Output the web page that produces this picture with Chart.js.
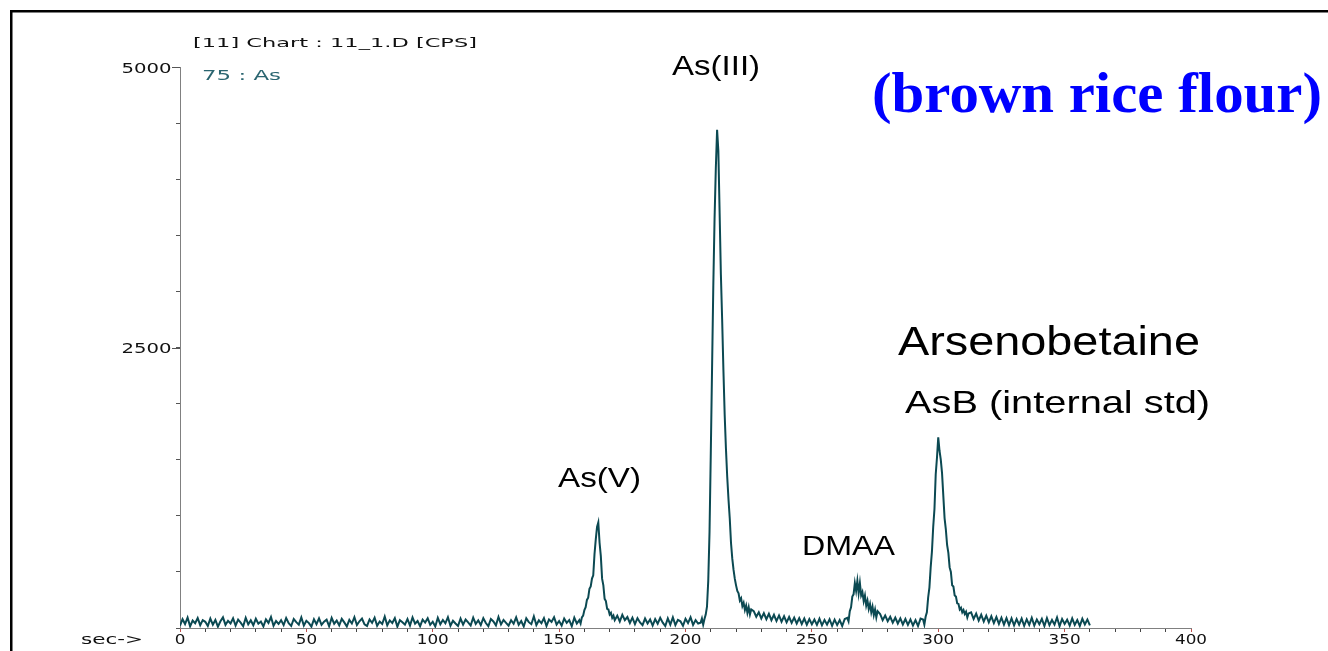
<!DOCTYPE html>
<html><head><meta charset="utf-8">
<script src="https://cdn.jsdelivr.net/npm/chart.js@4/dist/chart.umd.min.js"></script>
<style>html,body{margin:0;padding:0;background:#fff;overflow:hidden}canvas{display:block}</style>
</head><body>
<canvas id="c" width="1328" height="651"></canvas>
<script>
// ---- sampling grid of the chromatogram (start second and step of each segment) ----
const segmentStart = [0, 158, 173, 206, 227, 264, 277, 294, 313];
const segmentStep  = [1, 0.5, 1, 0.5, 1, 0.5, 1, 0.5, 1];

// ---- counts per second, one array per segment ----
const cpsBaselineEarly = [
  20,78,35,92,15,66,42,88,25,70,
  55,18,84,30,72,12,60,95,28,64,
  40,86,22,74,48,16,90,33,68,24,
  82,38,58,14,76,45,98,20,62,36,
  70,26,88,42,18,80,52,30,94,22,
  64,44,12,78,34,86,28,56,74,16,
  90,38,66,24,82,50,14,72,40,96,
  26,60,84,32,18,76,46,92,20,58,
  36,102,24,68,44,88,12,70,52,30,
  80,22,94,38,62,16,74,48,86,28,
  56,14,90,34,72,42,96,20,64,40,
  18,84,30,76,50,22,92,36,68,26,
  88,44,16,80,58,24,98,32,72,46,
  20,70,38,94,28,62,14,86,52,34,
  104,26,68,42,88,18,76,54,96,30,
  62,22,84,46,70,16,92,40
];
const cpsAsV = [70,40,95,110,160,185,250,270,350,370,440,470,660,790,900,940,760,640,440,380,260,240,170,165,120,135,90,110,70];
const cpsValley1 = [110,58,118,70,98,45,92,35,88,50,25,84,40,76,22,80,38,90,48,18,86,30,94,26,72,60,20,82,44,96,28,70,40];
const cpsAsIII = [48,85,30,80,120,190,420,850,1550,2300,3050,3650,4100,4440,4250,3700,3150,2750,2300,1900,1600,1350,1150,980,760,620,520,440,380,330,310,245,265,195,225,160,200,135,185,120,165];
const cpsTail = [150,100,140,85,132,78,126,70,118,62,112,56,104,50,98,46,92,40,88,36,84,30,80,34,76,28,82,24,72,30,78,20,74,26,70,18,80];
const cpsDMAA = [90,60,150,185,280,300,400,330,420,310,400,290,320,240,290,200,245,170,215,140,190,115,165,95,150];
const cpsValley2 = [125,70,112,60,100,48,92,40,86,32,80,28,76,22,70,18,84];
const cpsAsB = [75,30,100,140,270,360,540,680,900,1060,1370,1520,1700,1580,1500,1380,1180,980,880,740,670,540,500,380,370,290,280,220,215,165,180,140,160,125,145,95,130];
const cpsBaselineLate = [140,80,128,66,118,58,110,50,104,44,98,36,92,30,88,26,86,24,80,30,84,20,78,28,90,22,76,34,82,18,88,26,72,30,94,16,80,36,74,22,86,28,70,18,82,32,76,24];
const cpsSegments = [cpsBaselineEarly, cpsAsV, cpsValley1, cpsAsIII, cpsTail, cpsDMAA, cpsValley2, cpsAsB, cpsBaselineLate];

// ---- axis tick labels ----
const xTickLabels = [0, 50, 100, 150, 200, 250, 300, 350, 400];
const yTickLabels = [2500, 5000];

// ---- texts ----
const peakNames = ['As(V)', 'As(III)', 'DMAA', 'Arsenobetaine', 'AsB (internal std)'];
const headerText = '[11] Chart : 11_1.D [CPS]';
const traceText = '75 : As';
const axisUnitText = 'sec->';
const sampleTitle = '(brown rice flour)';

const points = [];
cpsSegments.forEach((seg, s) => seg.forEach((v, i) => points.push({x: segmentStart[s] + i * segmentStep[s], y: v})));

// label anchors in data coordinates (seconds, cps) + style
const peakLabelStyle = [
  {sec: 166,   cps: 1257, font: '28px "Liberation Sans"', w: 83},
  {sec: 212.1, cps: 4929, font: '28px "Liberation Sans"', w: 88},
  {sec: 264.5, cps: 651,  font: '27px "Liberation Sans"', w: 93},
  {sec: 343.8, cps: 2433, font: '40px "Liberation Sans"', w: 302},
  {sec: 347.2, cps: 1916, font: '32px "Liberation Sans"', w: 305}
];

function drawFit(ctx, text, x, y, font, width, align, color) {
  ctx.save();
  ctx.font = font;
  ctx.fillStyle = color;
  ctx.textBaseline = 'alphabetic';
  ctx.textAlign = 'left';
  const w = ctx.measureText(text).width;
  const sx = width / w;
  let left = x;
  if (align === 'center') left = x - width / 2;
  else if (align === 'right') left = x - width;
  ctx.translate(left, y);
  ctx.scale(sx, 1);
  ctx.fillText(text, 0, 0);
  ctx.restore();
}
function drawStretch(ctx, text, x, y, font, sx, align, color) {
  ctx.save();
  ctx.font = font;
  const w = ctx.measureText(text).width * sx;
  ctx.restore();
  drawFit(ctx, text, x, y, font, w, align, color);
}

const textPlugin = {
  id: 'texts',
  afterDraw(chart) {
    const ctx = chart.ctx, xs = chart.scales.x, ys = chart.scales.y, a = chart.chartArea;
    // outer frame
    ctx.save();
    ctx.strokeStyle = '#000';
    ctx.lineWidth = 2.5;
    ctx.beginPath();
    ctx.moveTo(11.25, chart.height + 2);
    ctx.lineTo(11.25, 11.25);
    ctx.lineTo(chart.width + 2, 11.25);
    ctx.stroke();
    // longer ticks at labelled y values
    ctx.strokeStyle = '#555';
    ctx.lineWidth = 1;
    yTickLabels.forEach(v => {
      const py = Math.round(ys.getPixelForValue(v)) + 0.5;
      ctx.beginPath(); ctx.moveTo(a.left - 8, py); ctx.lineTo(a.left, py); ctx.stroke();
    });
    ctx.restore();

    const tickFont = '14px "DejaVu Sans"';
    xTickLabels.forEach(v => drawStretch(ctx, String(v), xs.getPixelForValue(v), a.bottom + 15.5, tickFont, 1.2, 'center', '#111'));
    yTickLabels.forEach(v => drawFit(ctx, String(v), a.left - 8.5, ys.getPixelForValue(v) + 5.5, '14.5px "DejaVu Sans"', 50, 'right', '#111'));
    drawFit(ctx, axisUnitText, 81, a.bottom + 15.5, '14px "DejaVu Sans"', 62, 'left', '#111');

    drawFit(ctx, headerText, a.left + 13, 46.5, '12.5px "DejaVu Sans"', 284, 'left', '#111');
    drawFit(ctx, traceText, a.left + 22, 80, '13.5px "DejaVu Sans"', 79, 'left', '#2a6570');

    peakLabelStyle.forEach((p, i) => drawFit(ctx, peakNames[i], xs.getPixelForValue(p.sec), ys.getPixelForValue(p.cps), p.font, p.w, 'center', '#000'));

    drawFit(ctx, sampleTitle, 872, 112, 'bold 58px "Liberation Serif"', 450, 'left', '#0000ff');
  }
};

new Chart(document.getElementById('c'), {
  type: 'line',
  data: {datasets: [{data: points, borderColor: '#0b4952', borderWidth: 2, pointRadius: 0, tension: 0, fill: false}]},
  options: {
    responsive: false, animation: false, devicePixelRatio: 1,
    layout: {padding: {left: 80, right: 137, top: 67, bottom: 0}},
    plugins: {legend: {display: false}, tooltip: {enabled: false}},
    scales: {
      x: {
        type: 'linear', min: 0, max: 400,
        afterFit(s) { s.height = 23; },
        ticks: {stepSize: 10, autoSkip: false, maxRotation: 0, callback: () => ''},
        grid: {drawOnChartArea: false, drawTicks: true, tickLength: 4,
               color: c => (c.tick && c.tick.value % 50 === 0) ? '#c0504d' : '#444'},
        border: {color: '#808080', width: 1}
      },
      y: {
        min: 0, max: 5000,
        afterFit(s) { s.width = 100; },
        ticks: {stepSize: 500, autoSkip: false, callback: () => ''},
        grid: {drawOnChartArea: false, drawTicks: true, tickLength: 4, color: '#555'},
        border: {color: '#808080', width: 1}
      }
    }
  },
  plugins: [textPlugin]
});
</script>
</body></html>
